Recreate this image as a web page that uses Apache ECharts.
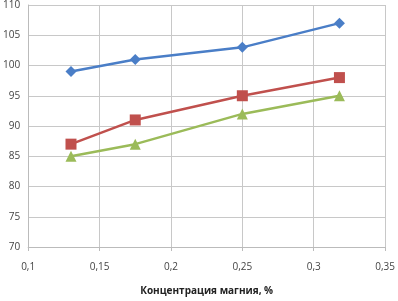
<!DOCTYPE html>
<html><head><meta charset="utf-8">
<script src="https://cdn.jsdelivr.net/npm/echarts@6/dist/echarts.min.js"></script>
<style>html,body{margin:0;padding:0;background:#fff}#c{width:398px;height:301px}</style>
</head><body><div id="c"></div>
<script>
var xValues = [0.13, 0.175, 0.25, 0.318];
var seriesBlue = [99, 101, 103, 107];
var seriesRed = [87, 91, 95, 98];
var seriesGreen = [85, 87, 92, 95];
var xAxisName = 'Концентрация магния, %';

function pairs(ys){ return xValues.map(function(x,i){return [x, ys[i]];}); }
var chart = echarts.init(document.getElementById('c'));
var lbl = {color:'#444', fontFamily:'"Open Sans", Arial, sans-serif', fontSize:10};
chart.setOption({
  animation:false,
  grid:{left:28, right:10, top:5, bottom:54, containLabel:false},
  xAxis:{type:'value', min:0.1, max:0.35, interval:0.05,
    axisLabel:Object.assign({margin:15, formatter:function(v){return String(+v.toFixed(2)).replace('.',',');}}, lbl),
    axisLine:{show:true, lineStyle:{color:'#bbb'}},
    axisTick:{show:true, length:4, lineStyle:{color:'#bbb'}},
    splitLine:{show:true, lineStyle:{color:'#c8c8c8'}},
    name:xAxisName, nameLocation:'middle', nameGap:39,
    nameTextStyle:{color:'#222', fontFamily:'"Open Sans", Arial, sans-serif', fontSize:10, fontWeight:'bold'}
  },
  yAxis:{type:'value', min:70, max:110, interval:5,
    axisLabel:Object.assign({margin:8}, lbl),
    axisLine:{show:true, lineStyle:{color:'#bbb'}},
    axisTick:{show:false},
    splitLine:{show:true, lineStyle:{color:'#c8c8c8'}}
  },
  series:[
    {type:'line', data:pairs(seriesBlue), symbol:'diamond', symbolSize:11, lineStyle:{color:'#4A7EC7', width:2.5}, itemStyle:{color:'#4A7EC7'}},
    {type:'line', data:pairs(seriesRed), symbol:'rect', symbolSize:11, lineStyle:{color:'#C0504D', width:2.5}, itemStyle:{color:'#C0504D'}},
    {type:'line', data:pairs(seriesGreen), symbol:'triangle', symbolSize:11, lineStyle:{color:'#9BBB59', width:2.5}, itemStyle:{color:'#9BBB59'}}
  ]
});
</script></body></html>
